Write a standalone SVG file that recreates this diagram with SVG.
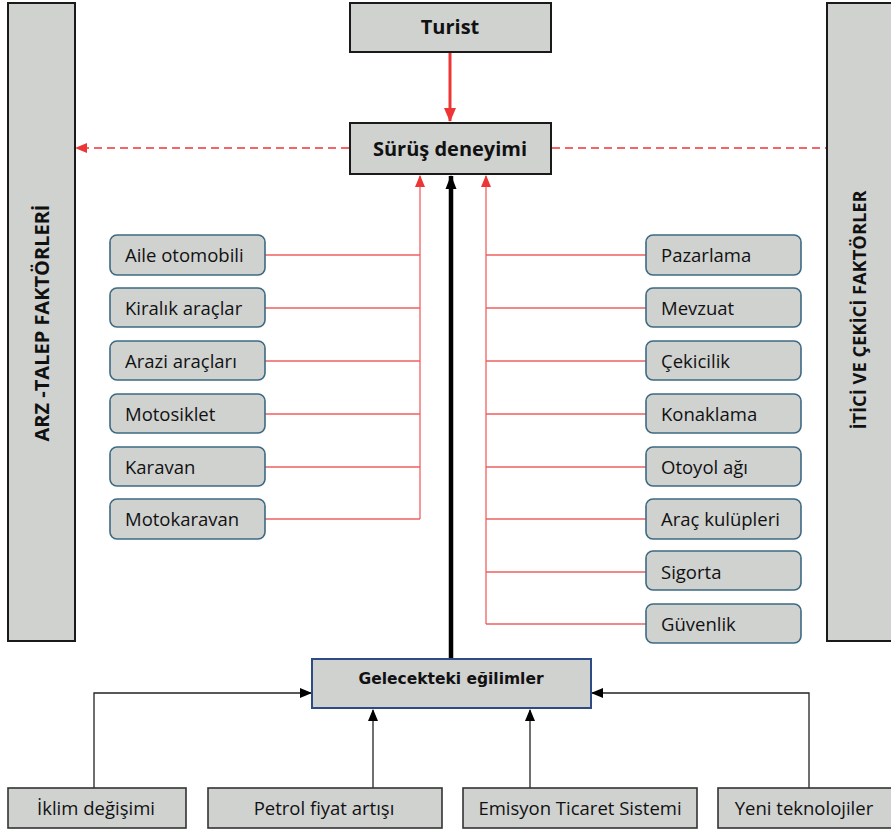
<svg xmlns="http://www.w3.org/2000/svg" width="891" height="830" viewBox="0 0 891 830">
<style>
.bg{fill:#fff}
.side{fill:#d0d2d0;stroke:#1a1a1a;stroke-width:2}
.main{fill:#d0d2d0;stroke:#1a1a1a;stroke-width:2}
.item{fill:#d0d2d0;stroke:#3d6a82;stroke-width:1.6}
.trend{fill:#d0d2d0;stroke:#2e4b85;stroke-width:2}
.bottom{fill:#d0d2d0;stroke:#333;stroke-width:1.6}
.t{font-family:"Open Sans","Noto Sans","DejaVu Sans",sans-serif;font-size:18.5px;fill:#111}
.tb{font-family:"Open Sans","Noto Sans","DejaVu Sans",sans-serif;font-weight:bold;fill:#111}
.tg{font-family:"DejaVu Sans","Verdana",sans-serif;font-weight:bold;font-size:15.5px;fill:#111}
.red{stroke:#f06060;stroke-width:1.3;fill:none}
.redthick{stroke:#ee3535;stroke-width:3;fill:none}
.dash{stroke:#ee3535;stroke-width:1.6;stroke-dasharray:8 5;fill:none}
.blk{stroke:#000;stroke-width:4.5;fill:none}
.thin{stroke:#222;stroke-width:1.3;fill:none}
</style>
<defs>
<marker id="ar" markerUnits="userSpaceOnUse" markerWidth="12" markerHeight="12" viewBox="0 0 12 12" refX="11" refY="6" orient="auto"><path d="M0,1 L12,6 L0,11 Z" fill="#ee3535"/></marker>
<marker id="arBig" markerUnits="userSpaceOnUse" markerWidth="14" markerHeight="14" viewBox="0 0 14 14" refX="13" refY="7" orient="auto"><path d="M0,1 L14,7 L0,13 Z" fill="#ee3535"/></marker>
<marker id="ab" markerUnits="userSpaceOnUse" markerWidth="14" markerHeight="14" viewBox="0 0 14 14" refX="13" refY="7" orient="auto"><path d="M0,1.5 L14,7 L0,12.5 Z" fill="#000"/></marker>
<marker id="ak" markerUnits="userSpaceOnUse" markerWidth="12" markerHeight="12" viewBox="0 0 12 12" refX="11" refY="6" orient="auto"><path d="M0,1 L12,6 L0,11 Z" fill="#000"/></marker>
</defs>
<rect class="bg" x="0" y="0" width="891" height="830"/>

<g id="connectors">
<line class="redthick" x1="450" y1="53" x2="450" y2="121" marker-end="url(#arBig)"/>
<line class="dash" x1="349" y1="148" x2="76" y2="148" marker-end="url(#ar)"/>
<line class="dash" x1="552" y1="148" x2="826" y2="148"/>
<path class="red" d="M265,255 H420 M265,308 H420 M265,361 H420 M265,414 H420 M265,467 H420 M265,519 H420"/>
<line class="red" x1="420" y1="519" x2="420" y2="176" marker-end="url(#ar)"/>
<path class="red" d="M486,255 H646 M486,308 H646 M486,361 H646 M486,414 H646 M486,467 H646 M486,519 H646 M486,572 H646 M486,624 H646"/>
<line class="red" x1="486" y1="624" x2="486" y2="176" marker-end="url(#ar)"/>
<line class="blk" x1="451" y1="658" x2="451" y2="176" marker-end="url(#ab)"/>
<path class="thin" d="M94,788 V693 H311" marker-end="url(#ak)"/>
<path class="thin" d="M373,788 V710" marker-end="url(#ak)"/>
<path class="thin" d="M530,788 V710" marker-end="url(#ak)"/>
<path class="thin" d="M809,788 V693 H592" marker-end="url(#ak)"/>
</g>

<g id="arz-talep">
<rect class="side" x="8" y="3" width="67" height="638"/>
<text class="tb" font-size="20" transform="translate(49,323) rotate(-90)" text-anchor="middle">ARZ -TALEP FAKTÖRLERİ</text>
</g>
<g id="itici-cekici">
<rect class="side" x="827" y="3" width="70" height="638"/>
<text class="tb" font-size="18.3" transform="translate(866,310) rotate(-90)" text-anchor="middle">İTİCİ VE ÇEKİCİ FAKTÖRLER</text>
</g>

<g id="turist">
<rect class="main" x="350" y="3" width="201" height="49"/>
<text class="tb" font-size="20" x="450" y="34" text-anchor="middle">Turist</text>
</g>
<g id="surus">
<rect class="main" x="350" y="123" width="201" height="51"/>
<text class="tb" font-size="20" x="450" y="156" text-anchor="middle">Sürüş deneyimi</text>
</g>

<g id="aile"><rect class="item" x="110" y="235" width="155" height="40" rx="7"/><text class="t" x="125" y="262">Aile otomobili</text></g>
<g id="kiralik"><rect class="item" x="110" y="288" width="155" height="39" rx="7"/><text class="t" x="125" y="315">Kiralık araçlar</text></g>
<g id="arazi"><rect class="item" x="110" y="341" width="155" height="39" rx="7"/><text class="t" x="125" y="368">Arazi araçları</text></g>
<g id="motosiklet"><rect class="item" x="110" y="394" width="155" height="39" rx="7"/><text class="t" x="125" y="421">Motosiklet</text></g>
<g id="karavan"><rect class="item" x="110" y="447" width="155" height="39" rx="7"/><text class="t" x="125" y="474">Karavan</text></g>
<g id="motokaravan"><rect class="item" x="110" y="499" width="155" height="40" rx="7"/><text class="t" x="125" y="526">Motokaravan</text></g>

<g id="pazarlama"><rect class="item" x="646" y="235" width="155" height="40" rx="7"/><text class="t" x="661" y="262">Pazarlama</text></g>
<g id="mevzuat"><rect class="item" x="646" y="288" width="155" height="39" rx="7"/><text class="t" x="661" y="315">Mevzuat</text></g>
<g id="cekicilik"><rect class="item" x="646" y="341" width="155" height="39" rx="7"/><text class="t" x="661" y="368">Çekicilik</text></g>
<g id="konaklama"><rect class="item" x="646" y="394" width="155" height="39" rx="7"/><text class="t" x="661" y="421">Konaklama</text></g>
<g id="otoyol"><rect class="item" x="646" y="447" width="155" height="39" rx="7"/><text class="t" x="661" y="474">Otoyol ağı</text></g>
<g id="arac-kulupleri"><rect class="item" x="646" y="499" width="155" height="40" rx="7"/><text class="t" x="661" y="526">Araç kulüpleri</text></g>
<g id="sigorta"><rect class="item" x="646" y="551" width="155" height="39" rx="7"/><text class="t" x="661" y="579">Sigorta</text></g>
<g id="guvenlik"><rect class="item" x="646" y="604" width="155" height="39" rx="7"/><text class="t" x="661" y="631">Güvenlik</text></g>

<g id="gelecekteki">
<rect class="trend" x="312" y="659" width="279" height="49"/>
<text class="tg" x="451" y="684" text-anchor="middle">Gelecekteki eğilimler</text>
</g>

<g id="iklim"><rect class="bottom" x="8" y="788" width="178" height="40"/><text class="t" x="96" y="815" text-anchor="middle">İklim değişimi</text></g>
<g id="petrol"><rect class="bottom" x="208" y="788" width="234" height="40"/><text class="t" x="324" y="815" text-anchor="middle">Petrol fiyat artışı</text></g>
<g id="emisyon"><rect class="bottom" x="463" y="788" width="234" height="40"/><text class="t" x="580" y="815" text-anchor="middle">Emisyon Ticaret Sistemi</text></g>
<g id="yeni"><rect class="bottom" x="718" y="788" width="180" height="40"/><text class="t" x="804" y="815" text-anchor="middle">Yeni teknolojiler</text></g>
</svg>
